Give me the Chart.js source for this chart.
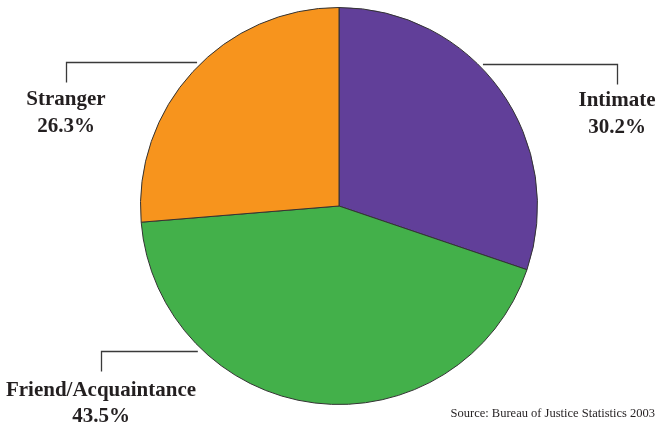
<!DOCTYPE html>
<html><head><meta charset="utf-8">
<script src="https://cdn.jsdelivr.net/npm/chart.js@4/dist/chart.umd.min.js"></script>
<style>html,body{margin:0;padding:0;background:#fff}#wrap{width:657px;height:423px;position:relative}</style>
</head><body><div id="wrap"><canvas id="c" width="657" height="423"></canvas></div>
<script>
const categories = ["Intimate", "Friend/Acquaintance", "Stranger"];
const percentages = [30.2, 43.5, 26.3];
const sliceColors = ["#613f99", "#43b04a", "#f7941d"];
const sourceNote = "Source: Bureau of Justice Statistics 2003";

// label annotation layout: attach angle (deg clockwise from top), label centre x, baseline offset below leader
const labelLayout = [
  {angle: 45.3, labelX: 617, textDy: 41.5},
  {angle: 224.2, labelX: 101, textDy: 44},
  {angle: 315.5, labelX: 66, textDy: 42.5}
];

const labelPlugin = {
  id: 'leaderLabels',
  afterDraw(chart) {
    const ctx = chart.ctx;
    const meta = chart.getDatasetMeta(0);
    const arc = meta.data[0];
    const cx = arc.x, cy = arc.y, r = arc.outerRadius + 4;
    ctx.save();
    labelLayout.forEach((L, i) => {
      const a = L.angle * Math.PI / 180;
      const px = cx + r * Math.sin(a), py = Math.round(cy - r * Math.cos(a)) + 0.5;
      const lx = Math.round(L.labelX) + 0.5;
      ctx.strokeStyle = '#3a3a3a';
      ctx.lineWidth = 1.3;
      ctx.beginPath();
      ctx.moveTo(px, py);
      ctx.lineTo(lx, py);
      ctx.lineTo(lx, py + 20);
      ctx.stroke();
      ctx.fillStyle = '#231f20';
      ctx.font = 'bold 21px "Liberation Serif", serif';
      ctx.textAlign = 'center';
      ctx.textBaseline = 'alphabetic';
      ctx.fillText(categories[i], L.labelX, py + L.textDy);
      ctx.fillText(percentages[i].toFixed(1) + '%', L.labelX, py + L.textDy + 26.5);
    });
    ctx.font = '12.5px "Liberation Serif", serif';
    ctx.textAlign = 'right';
    ctx.textBaseline = 'alphabetic';
    ctx.fillStyle = '#231f20';
    ctx.fillText(sourceNote, 655, 416.5);
    ctx.restore();
  }
};

new Chart(document.getElementById('c'), {
  type: 'pie',
  data: {
    labels: categories,
    datasets: [{
      data: percentages,
      backgroundColor: sliceColors,
      borderColor: '#333333',
      borderWidth: 1
    }]
  },
  options: {
    responsive: false,
    animation: false,
    layout: {padding: {left: 139, right: 118, top: 7, bottom: 18}},
    plugins: {legend: {display: false}, tooltip: {enabled: false}}
  },
  plugins: [labelPlugin]
});
</script></body></html>
